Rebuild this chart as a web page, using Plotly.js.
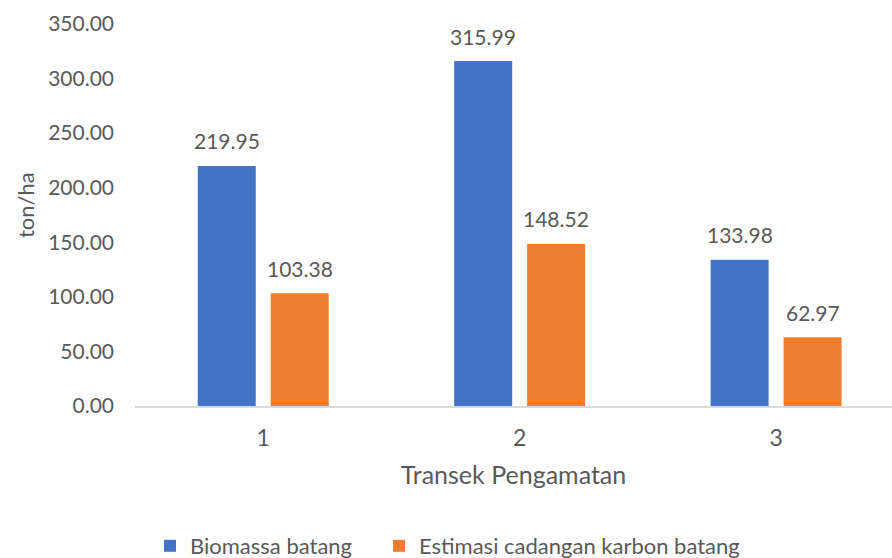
<!DOCTYPE html>
<html>
<head>
<meta charset="utf-8">
<script src="https://cdn.plot.ly/plotly-3.0.1.min.js"></script>
<style>html,body{margin:0;padding:0;background:#fff;}#chart{width:892px;height:558px;}</style>
</head>
<body>
<div id="chart"></div>
<script>
const categories = ['1', '2', '3'];
const biomassa = [219.95, 315.99, 133.98];
const karbon = [103.38, 148.52, 62.97];
const seriesNames = ['Biomassa batang', 'Estimasi cadangan karbon batang'];
const yTicks = [0, 50, 100, 150, 200, 250, 300, 350];

const FONT = 'Lato, "Open Sans", sans-serif';
const GREY = '#595959';

const traces = [
  {type: 'bar', name: seriesNames[0], x: categories, y: biomassa, marker: {color: '#4472C4'}, hoverinfo: 'y', legend: 'legend'},
  {type: 'bar', name: seriesNames[1], x: categories, y: karbon, marker: {color: '#ED7D31'}, hoverinfo: 'y', legend: 'legend2'}
];

const annotations = [];
[biomassa, karbon].forEach((vals, si) => {
  vals.forEach((v, i) => {
    annotations.push({
      x: i, y: v, xref: 'x', yref: 'y',
      text: v.toFixed(2), showarrow: false,
      xshift: si === 0 ? -36.5 : 36.5, yshift: 25,
      yanchor: 'middle',
      font: {family: FONT, size: 21, color: GREY}
    });
  });
});
annotations.push({
  xref: 'paper', yref: 'paper', x: -0.1453, y: 0.526,
  xanchor: 'center', yanchor: 'middle', textangle: -90,
  text: 'ton/ha', showarrow: false,
  font: {family: FONT, size: 22, color: GREY}
});

const legendBase = {orientation: 'h', xanchor: 'left', y: -0.3665, yanchor: 'middle',
  font: {family: FONT, size: 22, color: GREY}, itemwidth: 30, bgcolor: 'rgba(0,0,0,0)'};

const layout = {
  width: 892, height: 558,
  margin: {l: 135, r: 0, t: 24, b: 152, autoexpand: false},
  paper_bgcolor: '#fff', plot_bgcolor: '#fff',
  font: {family: FONT, color: GREY, size: 21},
  barmode: 'group', bargap: 0.431, bargroupgap: 0.205,
  showlegend: true,
  legend: Object.assign({}, legendBase, {x: 0.0198}),
  legend2: Object.assign({}, legendBase, {x: 0.3223}),
  xaxis: {
    type: 'category', range: [-0.5, 2.452], fixedrange: true, automargin: false,
    showline: true, linecolor: '#D9D9D9', linewidth: 1.5,
    showgrid: false, zeroline: false, ticks: '',
    ticklabelstandoff: 11,
    tickfont: {family: FONT, size: 23, color: GREY},
    title: {text: 'Transek Pengamatan', standoff: 16, font: {family: FONT, size: 25, color: GREY}}
  },
  yaxis: {
    range: [0, 350], tickvals: yTicks, ticktext: yTicks.map(v => v.toFixed(2)), automargin: false,
    showgrid: false, zeroline: false, showline: false, ticks: '',
    ticklabelstandoff: 20,
    tickfont: {family: FONT, size: 21, color: GREY}
  },
  annotations: annotations
};

Plotly.newPlot('chart', traces, layout, {displayModeBar: false, staticPlot: true});
</script>
</body>
</html>
